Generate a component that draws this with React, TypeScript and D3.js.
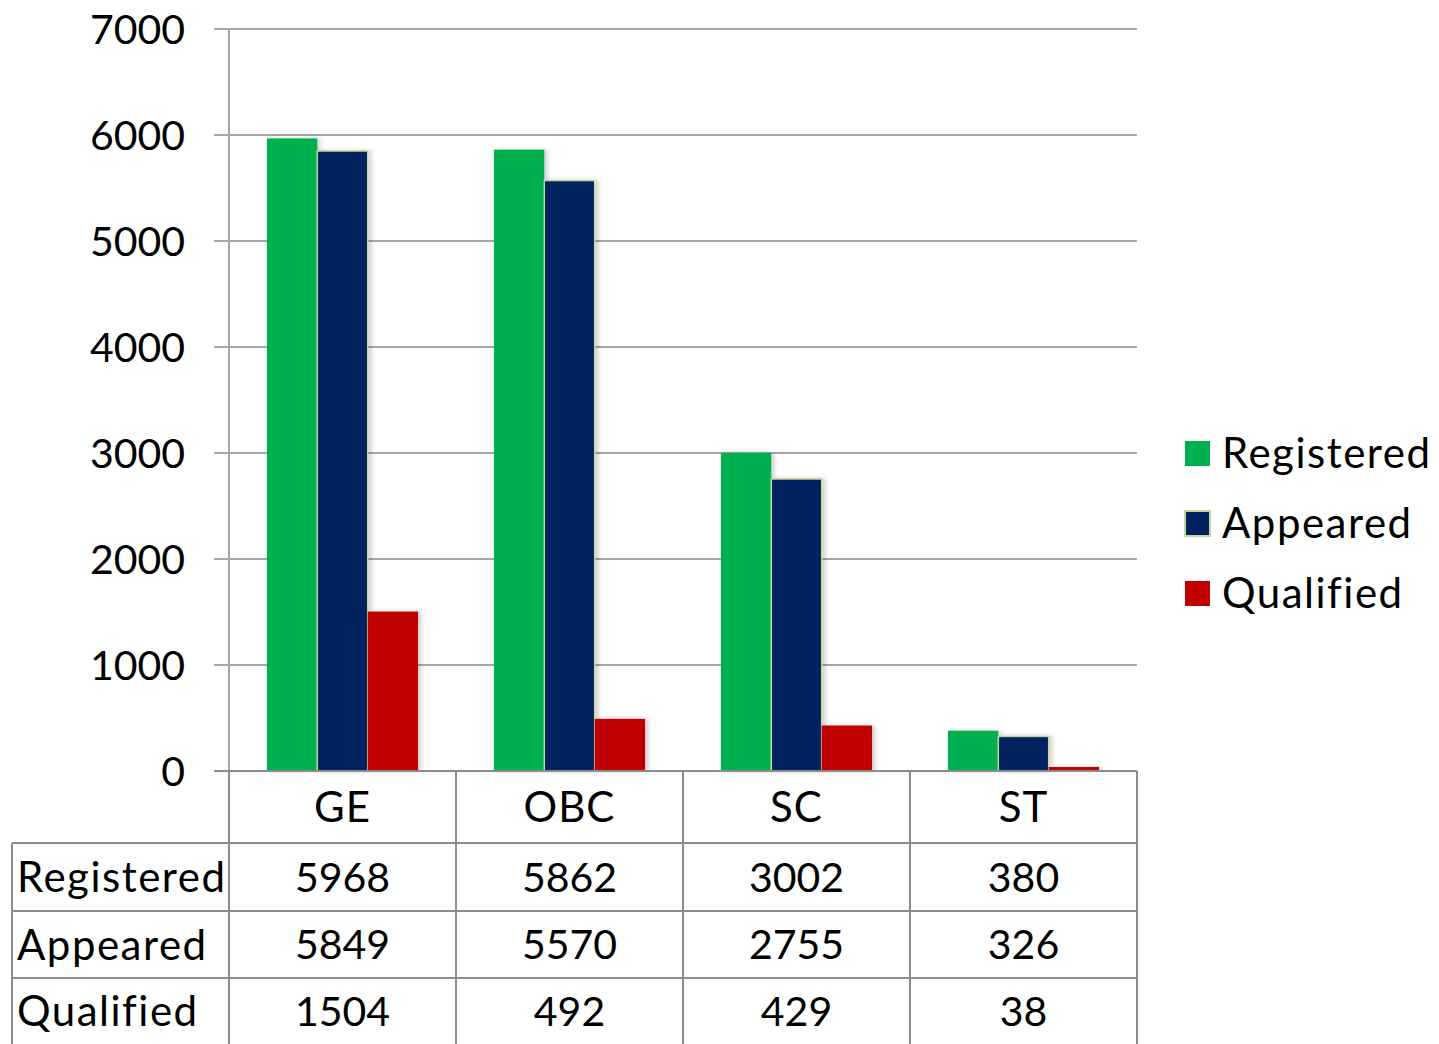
import React from 'react'
import * as d3 from 'd3'

const CATEGORIES = ['GE', 'OBC', 'SC', 'ST']
const SERIES = ['Registered', 'Appeared', 'Qualified']
const REGISTERED = [5968, 5862, 3002, 380]
const APPEARED = [5849, 5570, 2755, 326]
const QUALIFIED = [1504, 492, 429, 38]
const Y_TICKS = [0, 1000, 2000, 3000, 4000, 5000, 6000, 7000]
const COLORS = ['#00b050', '#002060', '#c00000']

const VALUES = [REGISTERED, APPEARED, QUALIFIED]

const W = 1439
const H = 1044
const FONT = 'Lato, "Open Sans", sans-serif'

const App: React.FC = () => {
  const plotLeft = 229
  const plotRight = 1137
  const plotTop = 29
  const plotBottom = 771
  const tableLeft = 12
  const rowEdges = [771, 843, 911, 978, 1044]

  const x = d3.scaleBand<string>().domain(CATEGORIES).range([plotLeft, plotRight]).padding(0)
  const bw = x.bandwidth()
  const xi = d3.scaleBand<string>().domain(SERIES).range([bw * 0.167, bw * 0.833]).padding(0)
  const y = d3.scaleLinear().domain([0, 7000]).range([plotBottom, plotTop])

  const gridColor = '#a6a6a6'
  const tableColor = '#8c8c8c'

  return (
    <svg
      width={W}
      height={H}
      viewBox={`0 0 ${W} ${H}`}
      style={{ position: 'absolute', left: 0, top: 0, display: 'block', background: '#fff' }}
      fontFamily={FONT}
    >
      <defs>
        <filter id="shadow" x="-10%" y="-10%" width="130%" height="120%">
          <feDropShadow dx="3" dy="0" stdDeviation="2" floodColor="#000" floodOpacity="0.18" />
        </filter>
      </defs>

      {/* gridlines + y tick labels */}
      {Y_TICKS.map(t => (
        <g key={t}>
          {t > 0 && (
            <line x1={214} x2={plotRight} y1={y(t)} y2={y(t)} stroke={gridColor} strokeWidth={2} />
          )}
          <text x={185} y={y(t)} dy="0.36em" textAnchor="end" fontSize={41} fill="#000">
            {t}
          </text>
        </g>
      ))}

      {/* y axis */}
      <line x1={plotLeft} x2={plotLeft} y1={plotTop} y2={plotBottom} stroke={gridColor} strokeWidth={2} />

      {/* bars */}
      {CATEGORIES.map((c, ci) => (
        <g key={c} transform={`translate(${x(c)},0)`}>
          {SERIES.map((s, si) => {
            const v = VALUES[si][ci]
            return (
              <rect
                key={s}
                x={xi(s)}
                y={y(v)}
                width={xi.bandwidth()}
                height={plotBottom - y(v)}
                fill={COLORS[si]}
                stroke={si === 1 ? '#c4d79b' : 'none'}
                strokeWidth={si === 1 ? 1.5 : 0}
                filter="url(#shadow)"
              />
            )
          })}
        </g>
      ))}

      {/* data table */}
      <line x1={214} x2={plotRight} y1={rowEdges[0]} y2={rowEdges[0]} stroke={tableColor} strokeWidth={2} />
      {rowEdges.slice(1, 4).map(r => (
        <line key={r} x1={tableLeft} x2={plotRight} y1={r} y2={r} stroke={tableColor} strokeWidth={2} />
      ))}
      <line x1={tableLeft} x2={tableLeft} y1={rowEdges[1]} y2={H} stroke={tableColor} strokeWidth={2} />
      {[plotLeft, ...CATEGORIES.map(c => (x(c) as number) + bw)].map(xx => (
        <line key={xx} x1={xx} x2={xx} y1={rowEdges[0]} y2={H} stroke={tableColor} strokeWidth={2} />
      ))}

      {CATEGORIES.map(c => (
        <text
          key={c}
          x={(x(c) as number) + bw / 2}
          y={(rowEdges[0] + rowEdges[1]) / 2}
          dy="0.36em"
          textAnchor="middle"
          fontSize={42}
          letterSpacing={1}
          fill="#000"
        >
          {c}
        </text>
      ))}

      {SERIES.map((s, si) => {
        const cy = (rowEdges[si + 1] + rowEdges[si + 2]) / 2
        return (
          <g key={s}>
            <text x={17} y={cy} dy="0.36em" fontSize={42} letterSpacing={1.5} fill="#000">
              {s}
            </text>
            {CATEGORIES.map((c, ci) => (
              <text
                key={c}
                x={(x(c) as number) + bw / 2}
                y={cy}
                dy="0.36em"
                textAnchor="middle"
                fontSize={41}
                fill="#000"
              >
                {VALUES[si][ci]}
              </text>
            ))}
          </g>
        )
      })}

      {/* legend */}
      {SERIES.map((s, si) => {
        const cy = 453 + si * 70
        return (
          <g key={s}>
            <rect
              x={1185}
              y={cy - 12}
              width={25}
              height={25}
              fill={COLORS[si]}
              stroke={si === 1 ? '#c4d79b' : 'none'}
              strokeWidth={si === 1 ? 2 : 0}
            />
            <text x={1222} y={cy} dy="0.36em" fontSize={42} letterSpacing={1.5} fill="#000">
              {s}
            </text>
          </g>
        )
      })}
    </svg>
  )
}

export default App
